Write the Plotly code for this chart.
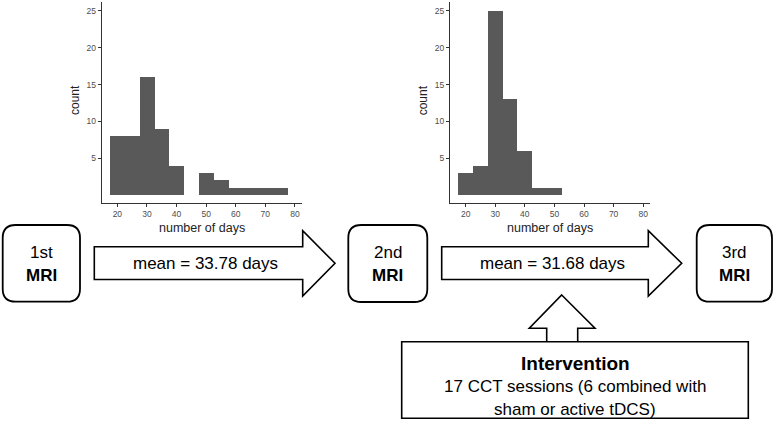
import plotly.graph_objects as go

# ---- data ----
bin_centers = [20, 25, 30, 35, 40, 45, 50, 55, 60, 65, 70, 75]
counts_1_2 = [8, 8, 16, 9, 4, 0, 3, 2, 1, 1, 1, 1]      # days between 1st and 2nd MRI
counts_2_3 = [3, 4, 25, 13, 6, 1, 1, 0, 0, 0, 0, 0]     # days between 2nd and 3rd MRI
x_ticks = [20, 30, 40, 50, 60, 70, 80]
y_ticks = [5, 10, 15, 20, 25]
mean_labels = ["mean = 33.78 days", "mean = 31.68 days"]
mri_labels = [("1st", "MRI"), ("2nd", "MRI"), ("3rd", "MRI")]
intervention_title = "Intervention"
intervention_lines = ["17 CCT sessions (6 combined with", "sham or active tDCS)"]

W, H = 777, 431
fig = go.Figure()

BAR_FILL = "#595959"
for i, cnt in enumerate([counts_1_2, counts_2_3]):
    sfx = "" if i == 0 else "2"
    fig.add_trace(go.Bar(
        x=bin_centers, y=cnt, width=[5] * len(bin_centers),
        marker=dict(color=BAR_FILL, line=dict(width=0)),
        xaxis="x" + sfx, yaxis="y" + sfx, showlegend=False, hoverinfo="skip"))

# pixel layout helpers
def px(xp):
    return xp / W
def py(yp):
    return 1 - yp / H

hist_dom_x = [(101.7, 301.7), (450.0, 650.0)]
hist_top, hist_bot = 2.0, 203.0
axis_common = dict(showline=True, linecolor="#333333", linewidth=1.1, ticks="outside",
                   ticklen=3, tickcolor="#333333", tickwidth=1, showgrid=False, zeroline=False,
                   tickfont=dict(family="Liberation Sans, Arial", size=8.5, color="#4d4d4d"))
lay = dict(
    width=W, height=H, margin=dict(l=0, r=0, t=0, b=0),
    plot_bgcolor="rgba(0,0,0,0)", paper_bgcolor="white", bargap=0,
    xaxis3=dict(domain=[0, 1], range=[0, W], visible=False, fixedrange=True),
    yaxis3=dict(domain=[0, 1], range=[H, 0], visible=False, fixedrange=True, anchor="x3"),
)
for i, (x0, x1) in enumerate(hist_dom_x):
    sfx = "" if i == 0 else "2"
    lay["xaxis" + sfx] = dict(domain=[px(x0), px(x1)], range=[14.7, 82.3], tickvals=x_ticks,
                              anchor="y" + sfx, **axis_common)
    lay["yaxis" + sfx] = dict(domain=[py(hist_bot), py(hist_top)], range=[-1.06, 26.2],
                              tickvals=y_ticks, anchor="x" + sfx, **axis_common)
fig.update_layout(**lay)

shapes = []
annotations = []
FONT = "Liberation Sans, Arial"

def rounded_rect(x0, y0, x1, y1, r):
    return (f"M{x0+r},{y0} L{x1-r},{y0} Q{x1},{y0} {x1},{y0+r} L{x1},{y1-r} "
            f"Q{x1},{y1} {x1-r},{y1} L{x0+r},{y1} Q{x0},{y1} {x0},{y1-r} "
            f"L{x0},{y0+r} Q{x0},{y0} {x0+r},{y0} Z")

def add_text(x, y, text, size, bold=False, angle=0, color="black", family=FONT):
    annotations.append(dict(x=x, y=y, xref="x3", yref="y3", text=f"<b>{text}</b>" if bold else text,
                            showarrow=False, xanchor="center", yanchor="middle", textangle=angle,
                            font=dict(family=family, size=size, color=color)))

# axis titles of histograms
for (x0, x1), cx in zip(hist_dom_x, [75.0, 423.3]):
    add_text(cx, 100, "count", 12, angle=-90, color="#222222")
    add_text((x0 + x1) / 2, 228, "number of days", 12.5, color="#222222")

# MRI boxes
mri_boxes = [(2.7, 225, 80, 301.7), (348.3, 225, 427.3, 302), (696.7, 225, 772, 301.7)]
for (x0, y0, x1, y1), (l1, l2) in zip(mri_boxes, mri_labels):
    shapes.append(dict(type="path", xref="x3", yref="y3", path=rounded_rect(x0, y0, x1, y1, 13),
                       line=dict(color="black", width=1.8), fillcolor="white"))
    cx = (x0 + x1) / 2
    add_text(cx, 252.5, l1, 17)
    add_text(cx, 275, l2, 17, bold=True)

# horizontal arrows
arrows = [(94.3, 302.7, 335.0), (441.7, 648.3, 681.7)]
for (bx0, bx1, tip), lbl in zip(arrows, mean_labels):
    path = (f"M{bx0},246.7 L{bx1},246.7 L{bx1},230.7 L{tip},263.3 L{bx1},296 "
            f"L{bx1},279.5 L{bx0},279.5 Z")
    shapes.append(dict(type="path", xref="x3", yref="y3", path=path,
                       line=dict(color="black", width=1.6), fillcolor="white"))
    add_text((bx0 + bx1) / 2 + 7, 263.3, lbl, 17)

# upward arrow
up = ("M561.7,295 L595,328.3 L577.7,328.3 L577.7,341.7 L546.7,341.7 "
      "L546.7,328.3 L529.3,328.3 Z")
shapes.append(dict(type="path", xref="x3", yref="y3", path=up,
                   line=dict(color="black", width=1.6), fillcolor="white"))

# intervention box
shapes.append(dict(type="rect", xref="x3", yref="y3", x0=401.7, y0=341.7, x1=748.3, y1=418.3,
                   line=dict(color="black", width=1.6), fillcolor="white"))
add_text(575, 363.3, intervention_title, 19, bold=True)
add_text(575, 386.7, intervention_lines[0], 17)
add_text(575, 409.3, intervention_lines[1], 17)

fig.update_layout(shapes=shapes, annotations=annotations)
fig.write_html("out.html", config={"displayModeBar": False},
               post_script="document.body.style.margin='0';document.body.style.overflow='hidden';")
